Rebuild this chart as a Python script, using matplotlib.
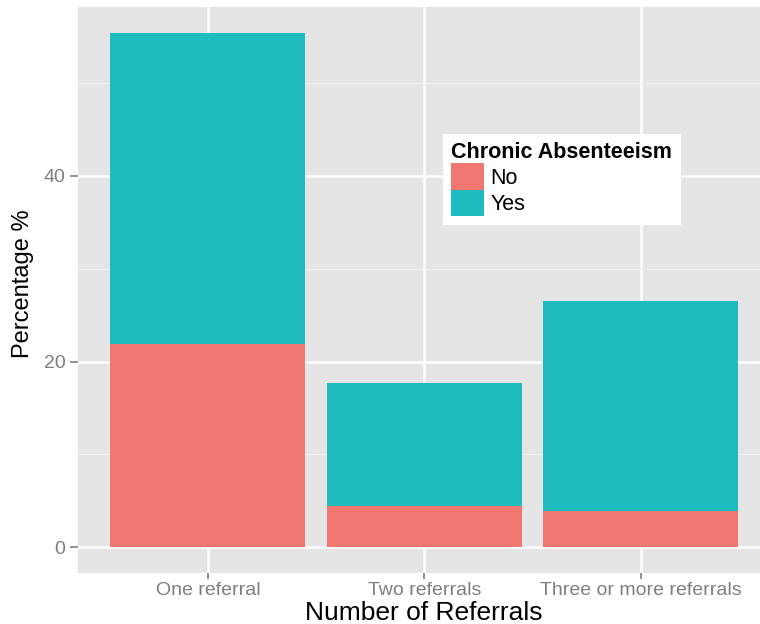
import matplotlib
matplotlib.use("Agg")
import numpy as np
from matplotlib import pyplot as plt
from matplotlib.patches import Patch

# values
categories = ["One referral", "Two referrals", "Three or more referrals"]
no_pct = [21.9, 4.4, 3.9]
yes_pct = [33.5, 13.3, 22.6]
series_labels = ["No", "Yes"]
colors = ["#F07870", "#1EBCBF"]

plt.rcParams['font.family'] = ['Liberation Sans', 'DejaVu Sans']

fig = plt.figure(figsize=(7.6, 6.24), dpi=100)
ax = fig.add_axes([0.1026, 0.0817, 0.8974, 0.9071])
ax.set_facecolor("#E5E5E5")

x = np.arange(1, len(categories) + 1)
ax.bar(x, no_pct, width=0.9, color=colors[0], zorder=3)
ax.bar(x, yes_pct, width=0.9, bottom=no_pct, color=colors[1], zorder=3)

total_max = max(n + y for n, y in zip(no_pct, yes_pct))
ax.set_ylim(-0.05 * total_max, 1.05 * total_max)
ax.set_xlim(0.4, 3.55)

ax.set_yticks([0, 20, 40])
ax.set_yticks([10, 30, 50], minor=True)
ax.set_xticks(x)
ax.set_xticklabels(categories)

ax.grid(which='major', color='white', linewidth=1.8, zorder=0)
ax.grid(which='minor', axis='y', color='#F2F2F2', linewidth=0.8, zorder=0)
ax.set_axisbelow(True)

for s in ax.spines.values():
    s.set_visible(False)

ax.tick_params(axis='both', which='major', colors='#7F7F7F', labelcolor='#7F7F7F',
               labelsize=14, length=6, width=1.2, pad=3)
ax.tick_params(axis='x', which='major', length=4.5, pad=2)
ax.tick_params(axis='y', which='minor', length=0)

ax.set_xlabel("Number of Referrals", fontsize=19)
ax.xaxis.set_label_coords(0.507, -0.05)
ax.set_ylabel("Percentage %", fontsize=17)
ax.yaxis.set_label_coords(-0.064, 0.512)

handles = [Patch(facecolor=c, edgecolor='none') for c in colors]
leg = ax.legend(handles, series_labels, title="Chronic Absenteeism",
                loc='upper left', bbox_to_anchor=(0.535, 0.776),
                frameon=True, fancybox=False, fontsize=15.5,
                title_fontproperties={'weight': 'bold', 'size': 15.5},
                handlelength=1.5, handleheight=1.5, handletextpad=0.3,
                labelspacing=0.0, borderpad=0.4, borderaxespad=0)
leg.get_frame().set_edgecolor('none')
leg.get_frame().set_facecolor('white')
leg.get_frame().set_alpha(1)
leg._legend_box.align = "left"

fig.savefig("out.png", dpi=100)
